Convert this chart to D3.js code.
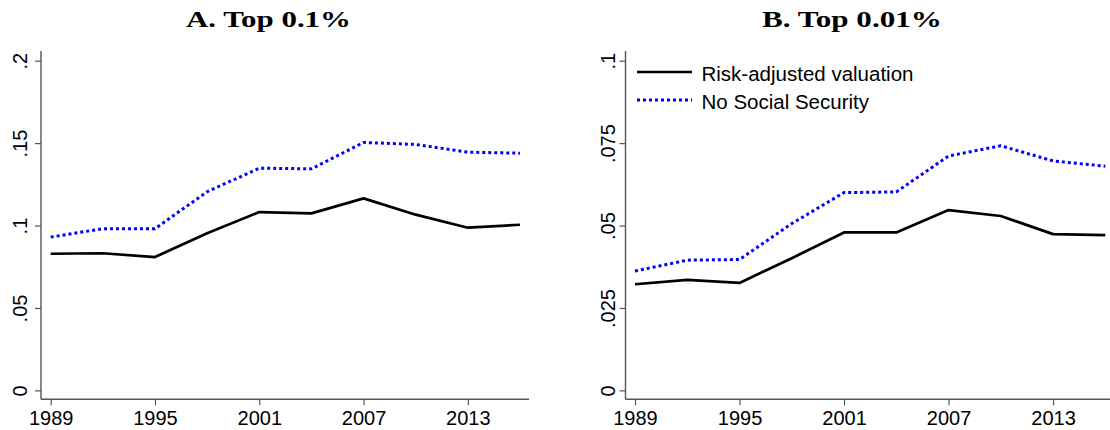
<!DOCTYPE html>
<html>
<head>
<meta charset="utf-8">
<script src="https://cdn.jsdelivr.net/npm/d3@7"></script>
<style>
  html, body { margin: 0; padding: 0; background: #fff; }
  svg { display: block; }
</style>
</head>
<body>
<svg id="chart" width="1110" height="430"></svg>
<script>
// ---- Data ----
const years = [1989, 1992, 1995, 1998, 2001, 2004, 2007, 2010, 2013, 2016];
const top01Risk  = [0.0829, 0.0832, 0.0809, 0.0953, 0.1082, 0.1074, 0.1165, 0.1066, 0.0987, 0.1005];
const top01NoSS  = [0.0930, 0.0981, 0.0981, 0.1205, 0.1348, 0.1344, 0.1504, 0.1492, 0.1445, 0.1439];
const top001Risk = [0.0322, 0.0335, 0.0326, 0.0401, 0.0479, 0.0479, 0.0547, 0.0529, 0.0474, 0.0471];
const top001NoSS = [0.0362, 0.0395, 0.0397, 0.0506, 0.0600, 0.0602, 0.0711, 0.0742, 0.0696, 0.0680];
const xTicks = [1989, 1995, 2001, 2007, 2013];
const yTicksA = [0, 0.05, 0.1, 0.15, 0.2];
const yLabelsA = ["0", ".05", ".1", ".15", ".2"];
const yTicksB = [0, 0.025, 0.05, 0.075, 0.1];
const yLabelsB = ["0", ".025", ".05", ".075", ".1"];
const seriesNames = ["Risk-adjusted valuation", "No Social Security"];
const titles = ["A. Top 0.1%", "B. Top 0.01%"];

// ---- Layout ----
const svg = d3.select("#chart");
svg.append("rect").attr("width", 1110).attr("height", 430).attr("fill", "#fff");
const sans = "'Liberation Sans', Arial, Helvetica, sans-serif";
const serif = "'Liberation Serif', 'Times New Roman', serif";
const axisColor = "#555";

const panels = [
  { axisX: 41, x0: 50.7, x1: 520, yMax: 0.2, yTicks: yTicksA, yLabels: yLabelsA,
    risk: top01Risk, noss: top01NoSS, title: titles[0], titleX: 268.5, titleW: 165,
    labelOff: 14, axisEnd: 529, legend: false },
  { axisX: 625.5, x0: 635, x1: 1105.3, yMax: 0.1, yTicks: yTicksB, yLabels: yLabelsB,
    risk: top001Risk, noss: top001NoSS, title: titles[1], titleX: 852, titleW: 180,
    labelOff: 11, axisEnd: 1115, legend: true }
];

const yBottom = 390.4, yTop = 60.7, axisY = 399.3;

panels.forEach(p => {
  const g = svg.append("g");
  const x = d3.scaleLinear().domain([1989, 2016]).range([p.x0, p.x1]);
  const y = d3.scaleLinear().domain([0, p.yMax]).range([yBottom, yTop]);

  // Title
  g.append("text")
    .attr("x", p.titleX).attr("y", 26.5)
    .attr("text-anchor", "middle")
    .attr("font-family", serif).attr("font-weight", "bold").attr("font-size", 23)
    .attr("textLength", p.titleW).attr("lengthAdjust", "spacingAndGlyphs")
    .attr("fill", "#000")
    .text(p.title);

  // Y axis
  const ya = g.append("g").attr("transform", `translate(${p.axisX},0)`)
    .call(d3.axisLeft(y).tickValues(p.yTicks).tickSize(6).tickPadding(0)
      .tickFormat((d, i) => p.yLabels[i]));
  ya.select(".domain").remove();
  ya.selectAll(".tick line").attr("stroke", axisColor).attr("stroke-width", 1.2);
  ya.selectAll(".tick text")
    .attr("x", null).attr("dy", null)
    .attr("text-anchor", "middle")
    .attr("transform", `translate(${-p.labelOff},0) rotate(-90)`)
    .attr("font-family", sans).attr("font-size", 20).attr("fill", "#000");
  g.append("line")
    .attr("x1", p.axisX).attr("x2", p.axisX)
    .attr("y1", 51).attr("y2", axisY)
    .attr("stroke", axisColor).attr("stroke-width", 1.4);

  // X axis
  const xa = g.append("g").attr("transform", `translate(0,${axisY})`)
    .call(d3.axisBottom(x).tickValues(xTicks).tickSize(6).tickFormat(d3.format("d")));
  xa.select(".domain").remove();
  xa.selectAll(".tick line").attr("stroke", axisColor).attr("stroke-width", 1.2);
  xa.selectAll(".tick text")
    .attr("y", 26).attr("dy", null)
    .attr("font-family", sans).attr("font-size", 20).attr("fill", "#000");
  g.append("line")
    .attr("x1", p.axisX).attr("x2", p.axisEnd)
    .attr("y1", axisY).attr("y2", axisY)
    .attr("stroke", axisColor).attr("stroke-width", 1.4);

  // Lines
  const line = d3.line().x((d, i) => x(years[i])).y(d => y(d));
  g.append("path").datum(p.risk).attr("d", line)
    .attr("fill", "none").attr("stroke", "#000").attr("stroke-width", 2.7)
    .attr("stroke-linejoin", "round");
  g.append("path").datum(p.noss).attr("d", line)
    .attr("fill", "none").attr("stroke", "#0000ff").attr("stroke-width", 3)
    .attr("stroke-dasharray", "3,3");

  // Legend
  if (p.legend) {
    const lg = g.append("g");
    const items = [
      { name: seriesNames[0], color: "#000", dash: null, w: 2.7, y: 72 },
      { name: seriesNames[1], color: "#0000ff", dash: "3,3", w: 3, y: 100 }
    ];
    items.forEach(it => {
      lg.append("line")
        .attr("x1", 637).attr("x2", 692).attr("y1", it.y).attr("y2", it.y)
        .attr("stroke", it.color).attr("stroke-width", it.w)
        .attr("stroke-dasharray", it.dash);
      lg.append("text")
        .attr("x", 701.5).attr("y", it.y + 8.7)
        .attr("font-family", sans).attr("font-size", 20.5).attr("fill", "#000")
        .text(it.name);
    });
  }
});
</script>
</body>
</html>
